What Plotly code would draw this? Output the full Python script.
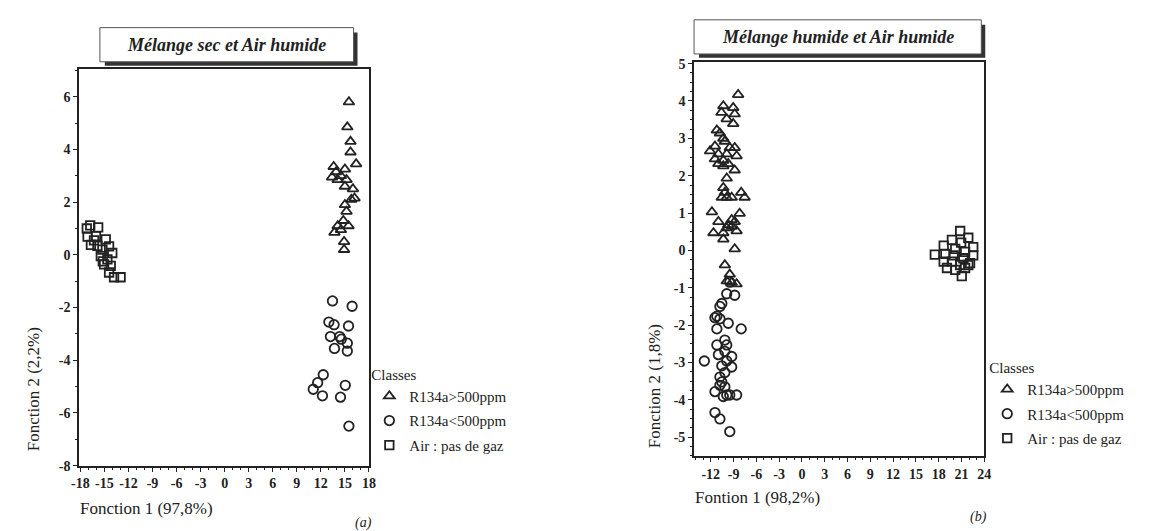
import plotly.graph_objects as go

W, H = 1155, 531

# ---------------- Data: (a) Mélange sec et Air humide ----------------
a_tri_x = [15.5, 15.3, 15.7, 15.7, 16.4, 13.6, 15.0, 13.9, 14.5, 13.4, 15.2, 14.1, 15.0, 16.0, 16.2,
           15.8, 15.0, 15.2, 14.8, 14.1, 15.45, 13.7, 14.5, 14.9, 14.9]
a_tri_y = [5.8, 4.85, 4.3, 3.9, 3.45, 3.35, 3.25, 3.15, 3.0, 2.95, 2.85, 2.85, 2.6, 2.5, 2.15,
           2.1, 1.9, 1.65, 1.3, 1.1, 1.1, 0.85, 0.95, 0.5, 0.2]
a_cir_x = [13.45, 15.9, 13.0, 13.65, 15.45, 13.2, 14.35, 14.55, 15.3, 13.7, 15.3, 12.3, 11.6,
           11.05, 12.2, 15.05, 14.45, 15.5]
a_cir_y = [-1.75, -1.95, -2.55, -2.65, -2.7, -3.1, -3.1, -3.2, -3.35, -3.55, -3.65, -4.55, -4.85,
           -5.1, -5.35, -4.95, -5.4, -6.5]
a_sq_x = [-16.77, -15.78, -17.2, -17.1, -16.06, -14.83, -16.68, -15.87, -14.42, -15.25, -14.02,
          -15.45, -14.63, -15.04, -14.21, -14.42, -13.8, -12.98, -16.3, -15.2]
a_sq_y = [1.12, 1.04, 1.0, 0.69, 0.71, 0.59, 0.38, 0.34, 0.32, 0.2, 0.07,
          -0.05, -0.17, -0.36, -0.42, -0.67, -0.85, -0.85, 0.55, -0.25]

# ---------------- Data: (b) Mélange humide et Air humide ----------------
b_tri_x = [-8.4, -10.35, -9.05, -10.6, -8.85, -9.9, -9.05, -11.2, -10.8, -10.35, -10.15, -11.45,
           -9.5, -8.85, -12.1, -11.0, -9.9, -8.6, -11.45, -10.35, -9.7, -11.0, -10.35, -8.85,
           -9.9, -10.35, -10.15, -8.0, -9.9, -9.25, -7.55, -10.55, -11.85, -8.2, -11.0, -9.25,
           -8.85, -9.7, -9.25, -11.65, -10.35, -9.9, -8.6, -10.35, -8.85, -10.15, -9.5, -9.9,
           -8.6, -9.25]
b_tri_y = [4.17, 3.87, 3.82, 3.69, 3.65, 3.52, 3.39, 3.22, 3.14, 3.0, 2.92, 2.79,
           2.75, 2.75, 2.66, 2.58, 2.58, 2.53, 2.45, 2.41, 2.32, 2.32, 2.26, 2.15,
           1.93, 1.68, 1.55, 1.55, 1.42, 1.42, 1.42, 1.42, 1.03, 0.99, 0.77, 0.82,
           0.77, 0.69, 0.64, 0.47, 0.47, 0.6, 0.52, 0.3, 0.04, -0.39, -0.64, -0.82,
           -0.9, -0.86]
b_cir_x = [-9.5, -8.85, -9.9, -10.55, -10.8, -11.2, -11.45, -10.8, -9.7, -8.0, -11.2, -10.15,
           -11.2, -9.9, -10.15, -11.0, -9.25, -12.85, -9.9, -10.55, -9.25, -10.15, -10.8,
           -10.55, -10.8, -10.15, -11.45, -9.9, -9.5, -8.6, -10.35, -11.45, -10.8, -9.5]
b_cir_y = [-0.85, -1.2, -1.16, -1.42, -1.5, -1.76, -1.8, -1.83, -1.95, -2.1, -2.1, -2.4,
           -2.53, -2.53, -2.7, -2.79, -2.84, -2.96, -2.96, -3.09, -3.12, -3.27, -3.39,
           -3.52, -3.61, -3.65, -3.78, -3.87, -3.87, -3.87, -3.91, -4.34, -4.51, -4.85]
b_sq_x = [20.83, 21.9, 19.74, 20.96, 22.55, 18.66, 20.18, 21.48, 17.49, 18.88, 19.96, 22.55,
          21.25, 18.66, 19.74, 22.13, 20.83, 19.09, 20.18, 21.48, 21.04, 21.9]
b_sq_y = [0.52, 0.34, 0.28, 0.21, 0.09, 0.13, 0.04, -0.04, -0.11, -0.09, -0.13, -0.13,
          -0.21, -0.30, -0.30, -0.34, -0.39, -0.47, -0.52, -0.47, -0.69, -0.39]

class_names = ["R134a>500ppm", "R134a<500ppm", "Air : pas de gaz"]
symbols = ["triangle-up-open", "circle-open", "square-open"]
sizes = [9.5, 9.5, 8.5]

a_x_ticks = [-18, -15, -12, -9, -6, -3, 0, 3, 6, 9, 12, 15, 18]
a_y_ticks = [-8, -6, -4, -2, 0, 2, 4, 6]
b_x_ticks = [-12, -9, -6, -3, 0, 3, 6, 9, 12, 15, 18, 21, 24]
b_y_ticks = [-5, -4, -3, -2, -1, 0, 1, 2, 3, 4, 5]

INK = "#222222"
SERIF = "Times New Roman, Liberation Serif, DejaVu Serif, serif"

fig = go.Figure()

a_sets = [(a_tri_x, a_tri_y), (a_cir_x, a_cir_y), (a_sq_x, a_sq_y)]
b_sets = [(b_tri_x, b_tri_y), (b_cir_x, b_cir_y), (b_sq_x, b_sq_y)]

for i, (xs, ys) in enumerate(a_sets):
    fig.add_trace(go.Scatter(
        x=xs, y=ys, mode="markers", name=class_names[i], xaxis="x", yaxis="y",
        legend="legend", legendgroup="a%d" % i,
        marker=dict(symbol=symbols[i], size=sizes[i], color=INK, line=dict(width=1.8, color=INK)),
    ))
for i, (xs, ys) in enumerate(b_sets):
    fig.add_trace(go.Scatter(
        x=xs, y=ys, mode="markers", name=class_names[i], xaxis="x2", yaxis="y2",
        legend="legend2", legendgroup="b%d" % i,
        marker=dict(symbol=symbols[i], size=sizes[i], color=INK, line=dict(width=1.8, color=INK)),
    ))


def px(v):
    return v / W


def py(v):
    return 1 - v / H


tickfont = dict(family=SERIF, size=14, color=INK, weight=700)


def axis(domain, rng, tickvals, minor_dt, anchor):
    return dict(
        domain=domain, range=rng, tickmode="array", tickvals=tickvals,
        ticktext=[str(t) for t in tickvals], showgrid=False, zeroline=False,
        showline=True, linecolor=INK, linewidth=1.8, mirror=True,
        ticks="outside", ticklen=4, tickwidth=1.3, tickcolor=INK,
        tickfont=tickfont, anchor=anchor,
        minor=dict(dtick=minor_dt, ticks="outside", ticklen=2.5, tickwidth=1, tickcolor=INK, showgrid=False),
    )


legend_common = dict(
    font=dict(family=SERIF, size=15, color=INK),
    title=dict(text="Classes", font=dict(family=SERIF, size=15, color=INK)),
    bgcolor="rgba(0,0,0,0)", borderwidth=0, traceorder="grouped", tracegroupgap=2,
    itemwidth=30, xanchor="left", yanchor="top",
)

fig.update_layout(
    width=W, height=H, margin=dict(l=0, r=0, t=0, b=0),
    paper_bgcolor="white", plot_bgcolor="white",
    xaxis=axis([px(64), px(358)], [-18.15, 18.05], a_x_ticks, 1, "y"),
    yaxis=axis([py(464), py(57)], [-8, 7.07], a_y_ticks, 1, "x"),
    xaxis2=axis([px(687), px(981)], [-14.2, 24.0], b_x_ticks, 1, "y2"),
    yaxis2=axis([py(454), py(50)], [-5.5, 5.05], b_y_ticks, 0.25, "x2"),
    legend=dict(x=px(358), y=py(356), **legend_common),
    legend2=dict(x=px(984), y=py(349), **legend_common),
    showlegend=True,
)

shapes = []
annotations = []


def title_box(x0, y0, x1, y1, text):
    # shadow
    shapes.append(dict(type="rect", xref="paper", yref="paper",
                       x0=px(x0 + 5), x1=px(x1 + 4), y0=py(y1 + 4), y1=py(y0 + 5),
                       fillcolor="#333333", line=dict(width=0), layer="above"))
    shapes.append(dict(type="rect", xref="paper", yref="paper",
                       x0=px(x0), x1=px(x1), y0=py(y1), y1=py(y0),
                       fillcolor="white", line=dict(color="#555555", width=1), layer="above"))
    annotations.append(dict(xref="paper", yref="paper", x=px((x0 + x1) / 2), y=py((y0 + y1) / 2),
                            text=text, showarrow=False, xanchor="center", yanchor="middle",
                            font=dict(family=SERIF, size=18, color=INK, weight=700, style="italic")))


title_box(85, 15, 342, 50, "Mélange sec et Air humide")
title_box(687, 7, 978, 42, "Mélange humide et Air humide")

label_font = dict(family=SERIF, size=17, color=INK)
annotations += [
    dict(xref="paper", yref="paper", x=px(18), y=py(386), text="Fonction 2 (2,2%)", textangle=-90,
         showarrow=False, xanchor="center", yanchor="middle", font=label_font),
    dict(xref="paper", yref="paper", x=px(63), y=py(508), text="Fonction 1 (97,8%)",
         showarrow=False, xanchor="left", yanchor="middle", font=label_font),
    dict(xref="paper", yref="paper", x=px(647), y=py(383), text="Fonction 2 (1,8%)", textangle=-90,
         showarrow=False, xanchor="center", yanchor="middle", font=label_font),
    dict(xref="paper", yref="paper", x=px(686), y=py(497), text="Fontion 1 (98,2%)",
         showarrow=False, xanchor="left", yanchor="middle", font=label_font),
    dict(xref="paper", yref="paper", x=px(352), y=py(523), text="(a)",
         showarrow=False, xanchor="center", yanchor="middle",
         font=dict(family=SERIF, size=14, color=INK, style="italic")),
    dict(xref="paper", yref="paper", x=px(975), y=py(517), text="(b)",
         showarrow=False, xanchor="center", yanchor="middle",
         font=dict(family=SERIF, size=14, color=INK, style="italic")),
]

fig.update_layout(shapes=shapes, annotations=annotations)

fig.write_html("out.html")
